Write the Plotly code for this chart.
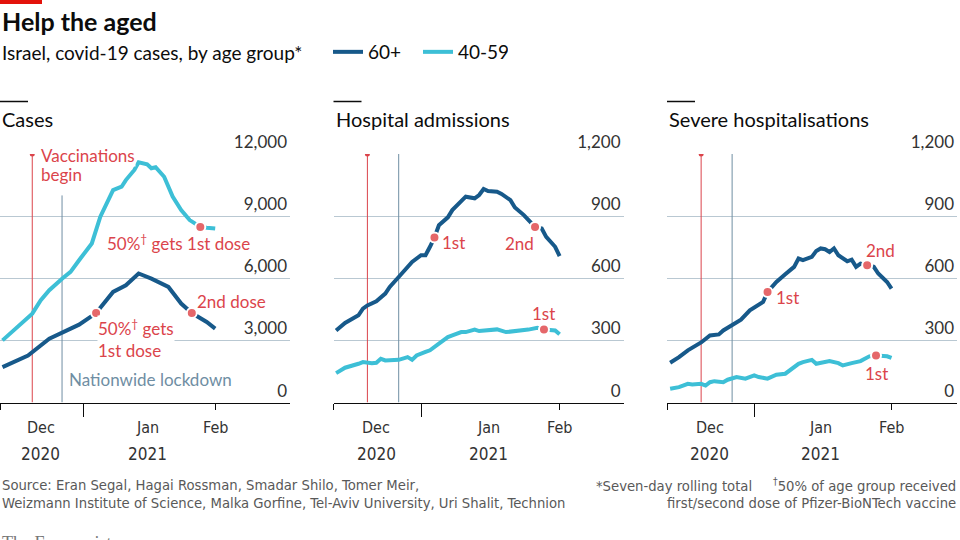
import plotly.graph_objects as go

DARK = "#17598A"
CYAN = "#3DBFD6"
RED = "#DB444B"
DOT = "#E5676A"
LOCK = "#6F8EA3"
GRID = "#B9C8D2"
INK = "#0C0C0C"
FONT = "Lato, Roboto, sans-serif"
NARROW = "Liberation Sans Narrow, DejaVu Sans Condensed, Roboto, sans-serif"

vaccine_start = "2020-12-20"
lockdown = "2020-12-27"

# Cases (seven-day rolling total)
cases_60_dates = ["2020-12-13", "2020-12-19", "2020-12-24", "2020-12-27", "2020-12-31",
                  "2021-01-04", "2021-01-08", "2021-01-11", "2021-01-14", "2021-01-17",
                  "2021-01-21", "2021-01-24", "2021-01-26 12:00", "2021-01-30", "2021-02-01"]
cases_60 = [1710, 2270, 3080, 3360, 3760, 4320, 5340, 5660, 6230, 5980, 5580, 4780, 4320, 3890, 3570]

cases_4059_dates = ["2020-12-13", "2020-12-16", "2020-12-20", "2020-12-22", "2020-12-24",
                    "2020-12-27", "2020-12-29", "2020-12-31", "2021-01-03", "2021-01-05",
                    "2021-01-08", "2021-01-10", "2021-01-11", "2021-01-13", "2021-01-14",
                    "2021-01-16", "2021-01-17", "2021-01-18", "2021-01-20", "2021-01-22",
                    "2021-01-24", "2021-01-26", "2021-01-28 12:00", "2021-01-30", "2021-02-01"]
cases_4059 = [3000, 3570, 4290, 4940, 5420, 5980, 6310, 6870, 7680, 8970, 10260, 10420, 10740,
              11230, 11600, 11500, 11310, 11360, 10900, 9940, 9290, 8810, 8480, 8440, 8400]

# Hospital admissions
hosp_60_dates = ["2020-12-13", "2020-12-15", "2020-12-18", "2020-12-19", "2020-12-20",
                 "2020-12-22", "2020-12-24", "2020-12-25", "2020-12-27", "2020-12-29",
                 "2020-12-30", "2021-01-01", "2021-01-02", "2021-01-03", "2021-01-04",
                 "2021-01-05", "2021-01-07", "2021-01-08", "2021-01-10", "2021-01-11",
                 "2021-01-13", "2021-01-14", "2021-01-15", "2021-01-16", "2021-01-18",
                 "2021-01-19", "2021-01-21", "2021-01-22", "2021-01-24", "2021-01-25",
                 "2021-01-26 12:00", "2021-01-28", "2021-01-29", "2021-01-31", "2021-02-01"]
hosp_60 = [348, 384, 421, 453, 469, 489, 526, 558, 606, 655, 679, 711, 711, 752, 797, 856, 894,
           929, 977, 994, 986, 1002, 1031, 1021, 1018, 1007, 977, 942, 905, 881, 848, 840, 800,
           752, 707]

hosp_4059_dates = ["2020-12-13", "2020-12-15", "2020-12-18", "2020-12-19", "2020-12-21",
                   "2020-12-22", "2020-12-23", "2020-12-24", "2020-12-27", "2020-12-28",
                   "2020-12-29", "2020-12-30", "2020-12-31", "2021-01-02", "2021-01-03",
                   "2021-01-05", "2021-01-07", "2021-01-08", "2021-01-10", "2021-01-11",
                   "2021-01-13", "2021-01-14", "2021-01-16", "2021-01-18", "2021-01-20",
                   "2021-01-22", "2021-01-24", "2021-01-25", "2021-01-27", "2021-01-28 12:00",
                   "2021-01-31", "2021-02-01"]
hosp_4059 = [142, 168, 187, 195, 190, 192, 211, 203, 206, 215, 219, 206, 227, 244, 252, 284,
             316, 324, 340, 340, 352, 345, 347, 353, 340, 345, 348, 352, 361, 352, 348, 329]

# Severe hospitalisations
severe_60_dates = ["2020-12-13", "2020-12-15", "2020-12-17", "2020-12-19", "2020-12-20",
                   "2020-12-22", "2020-12-24", "2020-12-25", "2020-12-27", "2020-12-29",
                   "2020-12-31", "2021-01-02", "2021-01-03", "2021-01-04", "2021-01-06",
                   "2021-01-08", "2021-01-10", "2021-01-11", "2021-01-12", "2021-01-14",
                   "2021-01-15", "2021-01-16", "2021-01-17", "2021-01-18", "2021-01-19",
                   "2021-01-20", "2021-01-22", "2021-01-23", "2021-01-24", "2021-01-25",
                   "2021-01-26 12:00", "2021-01-28", "2021-01-29", "2021-01-31", "2021-02-01"]
severe_60 = [192, 219, 252, 276, 290, 324, 329, 348, 373, 400, 445, 469, 486, 534, 582, 619,
             655, 695, 687, 703, 732, 744, 740, 727, 744, 711, 682, 690, 655, 671, 663, 655,
             623, 582, 550]

severe_4059_dates = ["2020-12-13", "2020-12-15", "2020-12-17", "2020-12-18", "2020-12-20",
                     "2020-12-21", "2020-12-22", "2020-12-23", "2020-12-25", "2020-12-26",
                     "2020-12-28", "2020-12-30", "2021-01-01", "2021-01-02", "2021-01-04",
                     "2021-01-06", "2021-01-08", "2021-01-09", "2021-01-11", "2021-01-12",
                     "2021-01-14", "2021-01-15", "2021-01-17", "2021-01-18", "2021-01-20",
                     "2021-01-21", "2021-01-23", "2021-01-25", "2021-01-27", "2021-01-28 12:00",
                     "2021-01-31", "2021-02-01"]
severe_4059 = [66, 74, 90, 87, 90, 82, 98, 103, 98, 110, 123, 115, 131, 123, 115, 134, 139,
               155, 187, 195, 206, 187, 195, 200, 190, 179, 190, 200, 223, 227, 223, 215]

# 50% of age group got first / second dose
dose_dates = ["2021-01-04", "2021-01-26 12:00", "2021-01-28 12:00"]
cases_dots = [4320, 4320, 8480]
hosp_dots = [797, 848, 352]
severe_dots = [534, 663, 227]

cases_ticks = [0, 3000, 6000, 9000, 12000]
hosp_ticks = [0, 300, 600, 900, 1200]

panels = [
    dict(title="Cases", d60=cases_60_dates, v60=cases_60, d40=cases_4059_dates, v40=cases_4059,
         dots=cases_dots, ticks=cases_ticks, lock_top=10000,
         dom=(0, 290), xr=["2020-12-12 10:00", "2021-02-18 14:00"]),
    dict(title="Hospital admissions", d60=hosp_60_dates, v60=hosp_60, d40=hosp_4059_dates,
         v40=hosp_4059, dots=hosp_dots, ticks=hosp_ticks, lock_top=1200,
         dom=(333.5, 623.5), xr=["2020-12-12 10:00", "2021-02-15 07:00"]),
    dict(title="Severe hospitalisations", d60=severe_60_dates, v60=severe_60,
         d40=severe_4059_dates, v40=severe_4059, dots=severe_dots, ticks=hosp_ticks,
         lock_top=1200, dom=(667, 957), xr=["2020-12-12 07:00", "2021-02-15 19:00"]),
]

W, H = 960, 540


def px(v):
    return v / W


def py(v):
    return 1 - v / H


fig = go.Figure()
annotations = []
shapes = []

for i, p in enumerate(panels):
    n = "" if i == 0 else str(i + 1)
    xa, ya = "x" + n, "y" + n
    top = p["ticks"][-1]
    common = dict(xaxis=xa, yaxis=ya, hoverinfo="skip")
    fig.add_trace(go.Scatter(x=[vaccine_start, vaccine_start], y=[0, top], mode="lines",
                             line=dict(color=RED, width=1), showlegend=False, **common))
    fig.add_trace(go.Scatter(x=[vaccine_start], y=[top], mode="markers",
                             marker=dict(color=RED, size=5), showlegend=False, **common))
    fig.add_trace(go.Scatter(x=[lockdown, lockdown], y=[0, p["lock_top"]], mode="lines",
                             line=dict(color=LOCK, width=1), showlegend=False, **common))
    fig.add_trace(go.Scatter(x=p["d40"], y=p["v40"], mode="lines", name="40-59",
                             line=dict(color=CYAN, width=4), legendrank=2,
                             showlegend=(i == 0), **common))
    fig.add_trace(go.Scatter(x=p["d60"], y=p["v60"], mode="lines", name="60+",
                             line=dict(color=DARK, width=4), legendrank=1,
                             showlegend=(i == 0), **common))
    fig.add_trace(go.Scatter(x=dose_dates, y=p["dots"], mode="markers", showlegend=False,
                             marker=dict(color=DOT, size=10, line=dict(color="white", width=2)),
                             **common))

    fig.update_layout({
        "xaxis" + n: dict(
            domain=[px(p["dom"][0]), px(p["dom"][1])], range=p["xr"], type="date",
            anchor=ya, showgrid=False, showline=True, linecolor=INK, linewidth=1,
            ticks="outside", tickvals=["2021-01-01"], ticktext=[" "], ticklen=13,
            tickcolor=INK, tickwidth=1, automargin=False,
            minor=dict(tickvals=[p["xr"][0], "2021-02-01"], ticks="outside", ticklen=6,
                       tickcolor=INK, tickwidth=1),
            fixedrange=True),
        "yaxis" + n: dict(
            domain=[py(402.5), py(154)], range=[0, top], anchor=xa, side="right",
            tickvals=p["ticks"], tickformat=",d", ticklabelposition="inside top",
            ticklabeloverflow="allow", showgrid=True, gridcolor=GRID, gridwidth=1,
            zeroline=False, showline=False, ticks="", automargin=False,
            tickfont=dict(family=FONT, size=17, color="#333333"), fixedrange=True),
    })

    left = p["dom"][0]
    shapes.append(dict(type="line", xref="paper", yref="paper", x0=px(left), x1=px(left + 28),
                       y0=py(101.5), y1=py(101.5), line=dict(color=INK, width=1.5)))
    annotations.append(dict(text=p["title"], xref="paper", yref="paper", x=px(left), y=py(119),
                            xanchor="left", yanchor="middle", showarrow=False,
                            font=dict(family=FONT, size=20, color=INK)))
    for label, d, yy in [("Dec", "2020-12-22", 427), ("Jan", "2021-01-16", 427),
                         ("Feb", "2021-02-01", 427), ("2020", "2020-12-22", 454),
                         ("2021", "2021-01-16", 454)]:
        annotations.append(dict(text=label, xref=xa, yref="paper", x=d, y=py(yy),
                                xanchor="center", yanchor="middle", showarrow=False,
                                font=dict(family=NARROW, size=16 if len(label) == 3 else 17,
                                          color="#333333")))


def note(text, xa, ya, x, y, anchor="center", color=RED, bg="rgba(0,0,0,0)"):
    annotations.append(dict(text=text, xref=xa, yref=ya, x=x, y=y, xanchor=anchor,
                            yanchor="middle", align="left", showarrow=False, bgcolor=bg,
                            borderpad=0, font=dict(family=FONT, size=17, color=color)))


note("Vaccinations", "x", "y", "2020-12-21 20:00", 11950, "left", bg="white")
note("begin", "x", "y", "2020-12-21 20:00", 11000, "left")
note("50%<sup>†</sup> gets 1st dose", "x", "y", "2021-01-23 10:00", 7710)
note("2nd dose", "x", "y", "2021-01-27 12:00", 4900, "left")
note("50%<sup>†</sup> gets<br>1st dose", "x", "y", "2021-01-04 05:00", 3073, "left", bg="white")
note("Nationwide lockdown", "x", "y", "2020-12-28 10:00", 1113, "left", color=LOCK)
note("1st", "x2", "y2", "2021-01-08 05:00", 771)
note("2nd", "x2", "y2", "2021-01-22 22:00", 769)
note("1st", "x2", "y2", "2021-01-28 07:00", 431)
note("2nd", "x3", "y3", "2021-01-29 10:00", 732)
note("1st", "x3", "y3", "2021-01-08 10:00", 509)
note("1st", "x3", "y3", "2021-01-28 12:00", 142)

# header and footer
FOOT = dict(family=NARROW, size=14.7, color="#595959")
annotations += [
    dict(text="<b>Help the aged</b>", x=0, y=py(21), xanchor="left", yanchor="middle",
         font=dict(family=FONT, size=25, color=INK)),
    dict(text="Israel, covid-19 cases, by age group*", x=0, y=py(52), xanchor="left",
         yanchor="middle", font=dict(family=FONT, size=19, color=INK)),
    dict(text="Source: Eran Segal, Hagai Rossman, Smadar Shilo, Tomer Meir,", x=0, y=py(484),
         xanchor="left", yanchor="middle", font=FOOT),
    dict(text="Weizmann Institute of Science, Malka Gorfine, Tel-Aviv University, Uri Shalit, Technion",
         x=0, y=py(502), xanchor="left", yanchor="middle", font=FOOT),
    dict(text="*Seven-day rolling total     <sup>†</sup>50% of age group received", x=px(958),
         y=py(484), xanchor="right", yanchor="middle", font=FOOT),
    dict(text="first/second dose of Pfizer-BioNTech vaccine", x=px(958), y=py(502),
         xanchor="right", yanchor="middle", font=FOOT),
    dict(text="The Economist", x=0, y=py(531), xanchor="left", yanchor="top",
         font=dict(family="Liberation Serif, DejaVu Serif, serif", size=18, color="#777777")),
]
for a in annotations:
    a.setdefault("xref", "paper")
    a.setdefault("yref", "paper")
    a.setdefault("showarrow", False)

shapes.append(dict(type="rect", xref="paper", yref="paper", x0=0, x1=px(42), y0=py(4), y1=1,
                   fillcolor="#E3120B", line=dict(width=0)))

fig.update_layout(
    width=W, height=H, margin=dict(l=0, r=0, t=0, b=0, autoexpand=False),
    paper_bgcolor="white", plot_bgcolor="white",
    font=dict(family=FONT, color=INK),
    showlegend=True,
    legend=dict(orientation="h", x=px(328), y=py(52), xanchor="left", yanchor="middle",
                font=dict(family=FONT, size=19, color=INK), bgcolor="rgba(0,0,0,0)",
                entrywidth=45, itemclick=False, itemdoubleclick=False, tracegroupgap=0),
    annotations=annotations, shapes=shapes,
)

fig.write_html("out.html", config={"displayModeBar": False},
               post_script="document.body.style.margin = '0';")
